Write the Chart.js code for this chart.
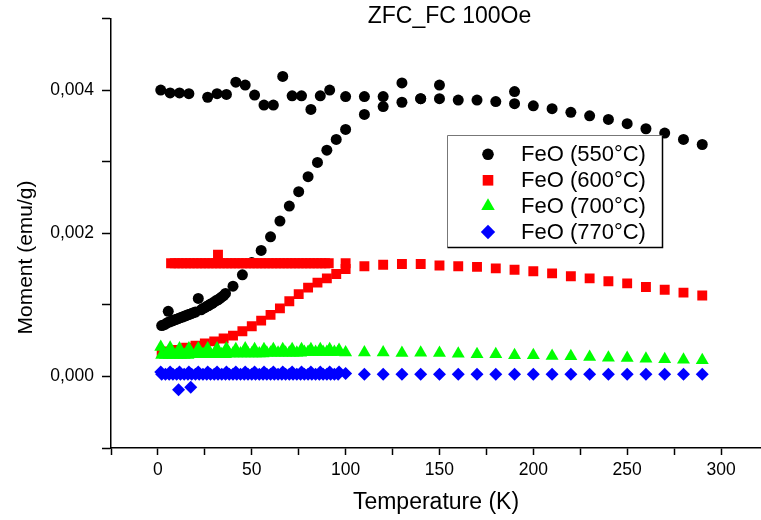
<!DOCTYPE html>
<html><head><meta charset="utf-8">
<script src="https://cdn.jsdelivr.net/npm/chart.js"></script>
<style>html,body{margin:0;padding:0;background:#fff;}canvas{display:block;}</style>
</head><body>
<canvas id="c" width="761" height="520" style="width:761px;height:520px"></canvas>
<script>
const FONT = '"Liberation Sans", Arial, Helvetica, sans-serif';
const chartTitle = 'ZFC_FC 100Oe';
const xTitle = 'Temperature (K)';
const yTitle = 'Moment (emu/g)';
const seriesNames = ['FeO (550°C)', 'FeO (600°C)', 'FeO (700°C)', 'FeO (770°C)'];
const seriesColors = ['#000000', '#ff0000', '#00ff00', '#0000ff'];
const xTickLabels = [0, 50, 100, 150, 200, 250, 300];
const yTickLabels = [0, 0.002, 0.004];

// FeO (550°C): FC branch then ZFC branch
const t550 = [1.5,6.5,11.5,16.5,26.5,31.5,36.5,41.5,46.5,51.5,56.5,61.5,66.5,71.5,76.5,81.5,86.5,91.5,100,110,120,130,140,150,160,170,180,190,200,210,220,230,240,250,260,270,280,290,
  2,3,4,5,5.5,6,7,8,9,10,11,12,13,14,15,16,17,18,19,20,21.5,23,24,25,26,27,28,29,30,31,32,33,34,35,36,40,45,50,55,60,65,70,75,80,85,90,95,100,110,120,130,140,150,190];
const m550 = [0.00400,0.00396,0.00396,0.00395,0.00390,0.00395,0.00394,0.00411,0.00407,0.00393,0.00379,0.00379,0.00419,0.00392,0.00392,0.00373,0.00392,0.00400,0.00391,0.00391,0.00391,0.00410,0.00388,0.00407,0.00386,0.00386,0.00384,0.00398,0.00378,0.00374,0.00369,0.00364,0.00359,0.00353,0.00346,0.00340,0.00331,0.00324,
  0.00071,0.00072,0.00073,0.00075,0.00091,0.00076,0.00077,0.00078,0.00079,0.00080,0.00081,0.00082,0.00083,0.00084,0.00085,0.00086,0.00087,0.00088,0.00089,0.00090,0.00109,0.00093,0.00095,0.00096,0.00098,0.00099,0.00101,0.00102,0.00104,0.00106,0.00107,0.00109,0.00111,0.00113,0.00116,0.00126,0.00142,0.00159,0.00176,0.00195,0.00217,0.00238,0.00258,0.00279,0.00299,0.00316,0.00331,0.00345,0.00366,0.00377,0.00383,0.00388,0.00388,0.00381];

// FeO (600°C): FC branch then ZFC branch
const t600 = [7,9,11,13,15,17,19,21,23,25,27,29,31,32,33,35,37,39,41,43,45,47,49,51,53,55,57,59,61,63,65,67,69,71,73,75,77,79,81,83,85,87,89,91,100,
  2,5,10,15,20,25,30,35,40,45,50,55,60,65,70,75,80,85,90,95,100,110,120,130,140,150,160,170,180,190,200,210,220,230,240,250,260,270,280,290];
const m600 = [0.00158,0.00158,0.00158,0.00158,0.00158,0.00158,0.00158,0.00158,0.00158,0.00158,0.00158,0.00158,0.00158,0.00170,0.00158,0.00158,0.00158,0.00158,0.00158,0.00158,0.00158,0.00158,0.00158,0.00158,0.00158,0.00158,0.00158,0.00158,0.00158,0.00158,0.00158,0.00158,0.00158,0.00158,0.00158,0.00158,0.00158,0.00158,0.00158,0.00158,0.00158,0.00158,0.00158,0.00158,0.00158,
  0.00033,0.00035,0.00037,0.00040,0.00043,0.00046,0.00049,0.00053,0.00057,0.00063,0.00070,0.00078,0.00086,0.00095,0.00105,0.00115,0.00124,0.00131,0.00137,0.00143,0.00150,0.00154,0.00156,0.00157,0.00157,0.00155,0.00154,0.00153,0.00151,0.00149,0.00147,0.00144,0.00140,0.00137,0.00133,0.00130,0.00125,0.00121,0.00117,0.00113];

// FeO (700°C): FC branch, dense ZFC branch, high-T points
const t700 = [1.5,6.5,11.5,16.5,21.5,26.5,31.5,36.5,41.5,46.5,51.5,56.5,61.5,66.5,71.5,76.5,81.5,86.5,91.5,96.5,
  2,4,6,8,10,12,14,16,18,20,22,24,26,28,30,32,34,36,38,40,42,44,46,48,50,52,54,56,58,60,62,64,66,68,70,72,74,76,78,80,82,84,86,88,90,92,94,96,
  100,110,120,130,140,150,160,170,180,190,200,210,220,230,240,250,260,270,280,290];
const m700 = [0.00041,0.00040,0.00039,0.00039,0.00039,0.00039,0.00039,0.00039,0.00038,0.00039,0.00038,0.00038,0.00038,0.00038,0.00038,0.00038,0.00038,0.00038,0.00038,0.00037,
  0.00030,0.00030,0.00030,0.00030,0.00030,0.00030,0.00030,0.00030,0.00031,0.00031,0.00031,0.00031,0.00031,0.00031,0.00031,0.00031,0.00031,0.00031,0.00032,0.00032,0.00032,0.00032,0.00032,0.00032,0.00032,0.00032,0.00032,0.00032,0.00033,0.00033,0.00033,0.00033,0.00033,0.00033,0.00033,0.00033,0.00033,0.00033,0.00034,0.00034,0.00034,0.00034,0.00034,0.00034,0.00034,0.00034,0.00034,0.00034,
  0.000335,0.000335,0.000335,0.000327,0.000330,0.000327,0.000318,0.000310,0.000310,0.000295,0.000295,0.000286,0.000280,0.000270,0.000260,0.000258,0.000248,0.000240,0.000234,0.000225];

// FeO (770°C): FC branch, dense ZFC branch, two low points, high-T points
const t770 = [1.5,6.5,11.5,16.5,21.5,26.5,31.5,36.5,41.5,46.5,51.5,56.5,61.5,66.5,71.5,76.5,81.5,86.5,91.5,96.5,
  2,4,6,8,10,12,14,16,18,20,22,24,26,28,30,32,34,36,38,40,42,44,46,48,50,52,54,56,58,60,62,64,66,68,70,72,74,76,78,80,82,84,86,88,90,92,94,96,
  11,17.5,
  100,110,120,130,140,150,160,170,180,190,200,210,220,230,240,250,260,270,280,290];
const m770 = [0.00006,0.00006,0.00006,0.00006,0.00006,0.00006,0.00006,0.00006,0.00006,0.00006,0.00006,0.00006,0.00006,0.00006,0.00006,0.00006,0.00006,0.00006,0.00006,0.00006,
  0.00003,0.00003,0.00003,0.00003,0.00003,0.00003,0.00003,0.00003,0.00003,0.00003,0.00003,0.00003,0.00003,0.00003,0.00003,0.00003,0.00003,0.00003,0.00003,0.00003,0.00003,0.00003,0.00003,0.00003,0.00003,0.00003,0.00003,0.00003,0.00003,0.00003,0.00003,0.00003,0.00003,0.00003,0.00003,0.00003,0.00003,0.00003,0.00003,0.00003,0.00003,0.00003,0.00003,0.00003,0.00003,0.00003,0.00003,0.00003,
  -0.000185,-0.000150,
  0.00004,0.00003,0.00003,0.00003,0.00003,0.00003,0.00003,0.00003,0.00003,0.00003,0.00003,0.00003,0.00003,0.00003,0.00003,0.00003,0.00003,0.00003,0.00003,0.00003];

const pts = (t, m) => t.map((x, i) => ({x: x, y: m[i]}));

const styles = [
  {pointStyle: 'circle', radius: 5.5},
  {pointStyle: 'rect', radius: 7},
  {pointStyle: 'triangle', radius: 7.5},
  {pointStyle: 'rectRot', radius: 6.5}
];
const allT = [t550, t600, t700, t770];
const allM = [m550, m600, m700, m770];

const datasets = seriesNames.map((name, i) => ({
  label: name,
  data: pts(allT[i], allM[i]),
  showLine: false,
  pointStyle: styles[i].pointStyle,
  pointRadius: styles[i].radius,
  pointHoverRadius: styles[i].radius,
  pointBackgroundColor: seriesColors[i],
  pointBorderColor: seriesColors[i],
  pointBorderWidth: 0,
  order: 4 - i
}));

function drawMarker(ctx, style, x, y, r) {
  ctx.beginPath();
  if (style === 'circle') {
    ctx.arc(x, y, r, 0, Math.PI * 2);
  } else if (style === 'rect') {
    const s = r * Math.SQRT1_2;
    ctx.rect(x - s, y - s, 2 * s, 2 * s);
  } else if (style === 'triangle') {
    ctx.moveTo(x, y - r);
    ctx.lineTo(x + r * Math.sin(2 * Math.PI / 3), y + r * 0.5);
    ctx.lineTo(x - r * Math.sin(2 * Math.PI / 3), y + r * 0.5);
    ctx.closePath();
  } else {
    ctx.moveTo(x - r, y); ctx.lineTo(x, y - r); ctx.lineTo(x + r, y); ctx.lineTo(x, y + r);
    ctx.closePath();
  }
  ctx.fill();
}

const decorations = {
  id: 'decorations',
  afterDraw(chart) {
    const ctx = chart.ctx;
    ctx.save();
    // chart title
    ctx.fillStyle = '#000';
    ctx.font = '23px ' + FONT;
    ctx.textAlign = 'center';
    ctx.textBaseline = 'alphabetic';
    ctx.fillText(chartTitle, 449.5, 22.7);
    // y axis title
    ctx.save();
    ctx.translate(32.3, 257.5);
    ctx.rotate(-Math.PI / 2);
    ctx.font = '21px ' + FONT;
    ctx.textAlign = 'center';
    ctx.fillText(yTitle, 0, 0);
    ctx.restore();
    // legend box
    const bx = 447.5, by = 135.5, bw = 215, bh = 112;
    ctx.fillStyle = '#fff';
    ctx.fillRect(bx, by, bw, bh);
    ctx.strokeStyle = '#777';
    ctx.lineWidth = 1;
    ctx.beginPath();
    ctx.moveTo(bx, by + bh); ctx.lineTo(bx, by); ctx.lineTo(bx + bw, by);
    ctx.stroke();
    ctx.strokeStyle = '#000';
    ctx.lineWidth = 1.5;
    ctx.beginPath();
    ctx.moveTo(bx + bw, by); ctx.lineTo(bx + bw, by + bh); ctx.lineTo(bx, by + bh);
    ctx.stroke();
    const rowsBase = [161.3, 187.3, 213, 239];
    const legR = [5.8, 7.5, 7.8, 7.2];
    ctx.font = '22px ' + FONT;
    ctx.textAlign = 'left';
    seriesNames.forEach((name, i) => {
      ctx.fillStyle = seriesColors[i];
      drawMarker(ctx, styles[i].pointStyle, 488, rowsBase[i] - 7, legR[i]);
      ctx.fillStyle = '#000';
      ctx.fillText(name, 521, rowsBase[i]);
    });
    ctx.restore();
  }
};

new Chart(document.getElementById('c'), {
  type: 'scatter',
  data: {datasets},
  options: {
    responsive: false,
    animation: false,
    devicePixelRatio: 1,
    layout: {padding: {top: 16, left: 0, right: 0, bottom: 0}, autoPadding: false},
    plugins: {legend: {display: false}, tooltip: {enabled: false}, title: {display: false}},
    scales: {
      x: {
        type: 'linear', position: 'bottom', min: -25, max: 321.3,
        afterFit: s => { s.height = 72; },
        border: {display: true, color: '#000', width: 1.5},
        grid: {display: true, drawOnChartArea: false, drawTicks: true, tickLength: 7, tickColor: '#000', tickWidth: 1.5},
        ticks: {
          stepSize: 25, autoSkip: false, maxRotation: 0, minRotation: 0, includeBounds: false,
          color: '#000', padding: 5, font: {family: FONT, size: 17.5},
          callback: v => {
            const r = Math.round(v);
            return (Math.abs(v - r) < 1e-6 && xTickLabels.includes(r)) ? String(r) : '';
          }
        },
        title: {display: true, text: xTitle, color: '#000', font: {family: FONT, size: 23}, padding: {top: 0, bottom: 4}}
      },
      y: {
        type: 'linear', position: 'left', min: -0.001, max: 0.005,
        afterFit: s => { s.width = 111; },
        border: {display: true, color: '#000', width: 1.5},
        grid: {display: true, drawOnChartArea: false, drawTicks: true, tickLength: 9, tickColor: '#000', tickWidth: 1.5},
        ticks: {
          stepSize: 0.001, autoSkip: false, includeBounds: false,
          color: '#000', padding: 8, font: {family: FONT, size: 17.5},
          callback: v => {
            const k = Math.round(v * 1000);
            const ok = Math.abs(v * 1000 - k) < 1e-6 && yTickLabels.some(l => Math.round(l * 1000) === k);
            return ok ? (k / 1000).toFixed(3).replace('.', ',') : '';
          }
        },
        title: {display: false}
      }
    }
  },
  plugins: [decorations]
});
</script>
</body></html>
